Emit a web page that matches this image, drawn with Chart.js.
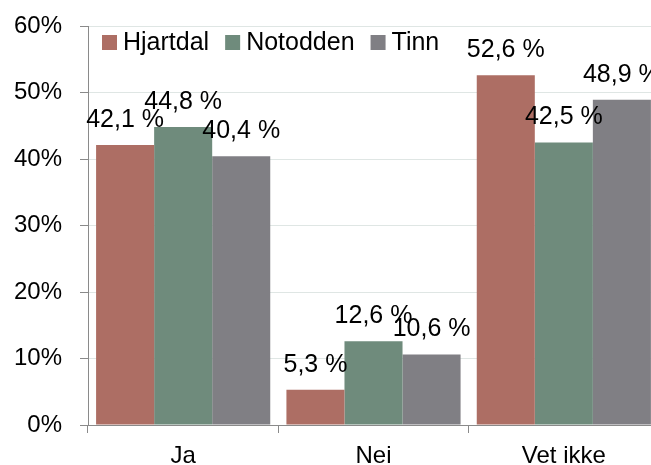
<!DOCTYPE html>
<html><head><meta charset="utf-8">
<script src="https://cdn.jsdelivr.net/npm/chart.js@4/dist/chart.umd.min.js"></script>
<style>html,body{margin:0;padding:0;overflow:hidden;background:#fff;width:651px;height:465px}</style>
</head><body>
<canvas id="c" width="665" height="465" style="display:block"></canvas>
<script>
const categories = ["Ja", "Nei", "Vet ikke"];
const seriesNames = ["Hjartdal", "Notodden", "Tinn"];
const hjartdal = [42.1, 5.3, 52.6];
const notodden = [44.8, 12.6, 42.5];
const tinn = [40.4, 10.6, 48.9];
const yTicks = [0, 10, 20, 30, 40, 50, 60];
const colors = ["#ad6e64", "#6f8b7c", "#807f84"];

const FONT = "'Liberation Sans', Arial, sans-serif";

const labelPlugin = {
  id: 'barLabels',
  afterDatasetsDraw(chart) {
    const ctx = chart.ctx;
    ctx.save();
    ctx.font = "25px " + FONT;
    ctx.fillStyle = "#000";
    ctx.textAlign = "center";
    ctx.textBaseline = "middle";
    chart.data.datasets.forEach((ds, i) => {
      const meta = chart.getDatasetMeta(i);
      meta.data.forEach((bar, j) => {
        const txt = ds.data[j].toFixed(1).replace('.', ',') + " %";
        ctx.fillText(txt, bar.x, bar.y - 25);
      });
    });
    ctx.restore();
  }
};

const legendPlugin = {
  id: 'insideLegend',
  afterDatasetsDraw(chart) {
    const ctx = chart.ctx;
    ctx.save();
    ctx.font = "25px " + FONT;
    ctx.textBaseline = "middle";
    ctx.textAlign = "left";
    let x = chart.chartArea.left + 14;
    const yc = chart.chartArea.top + 17;
    chart.data.datasets.forEach(ds => {
      ctx.fillStyle = ds.backgroundColor;
      ctx.fillRect(x, yc - 8, 15, 15);
      x += 21;
      ctx.fillStyle = "#000";
      ctx.fillText(ds.label, x, yc);
      x += ctx.measureText(ds.label).width + 16;
    });
    ctx.restore();
  }
};

new Chart(document.getElementById('c'), {
  type: 'bar',
  data: {
    labels: categories,
    datasets: [
      { label: seriesNames[0], data: hjartdal, backgroundColor: colors[0] },
      { label: seriesNames[1], data: notodden, backgroundColor: colors[1] },
      { label: seriesNames[2], data: tinn, backgroundColor: colors[2] }
    ]
  },
  options: {
    responsive: false,
    animation: false,
    layout: { padding: { top: 26, left: 0, right: 6, bottom: 0 } },
    datasets: { bar: { categoryPercentage: 0.915, barPercentage: 1.0, borderWidth: 0 } },
    plugins: {
      legend: { display: false },
      tooltip: { enabled: false }
    },
    scales: {
      x: {
        grid: { offset: true, drawOnChartArea: false, drawTicks: true, tickLength: 8, color: '#8a8a8a', tickColor: '#8a8a8a' },
        border: { color: '#8a8a8a', width: 1 },
        ticks: { font: { size: 24, family: FONT }, color: '#000', padding: 9 },
        afterFit(scale) { scale.height = 40; }
      },
      y: {
        min: 0, max: 60,
        afterBuildTicks(scale) { scale.ticks = yTicks.map(v => ({ value: v })); },
        grid: { color: '#dfe6e4', lineWidth: 1, tickLength: 8, tickColor: '#8a8a8a' },
        border: { color: '#8a8a8a', width: 1 },
        ticks: { font: { size: 24, family: FONT }, color: '#000', padding: 18, callback: v => v + '%' },
        afterFit(scale) { scale.width = 88; scale.paddingTop = 0; scale.paddingBottom = 0; }
      }
    }
  },
  plugins: [labelPlugin, legendPlugin]
});
</script>
</body></html>
